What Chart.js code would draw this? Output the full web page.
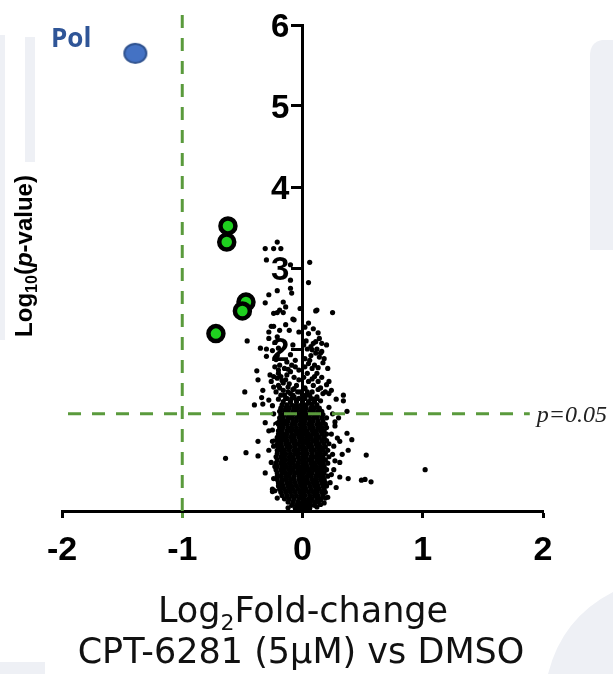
<!DOCTYPE html>
<html><head><meta charset="utf-8">
<script src="https://cdn.jsdelivr.net/npm/chart.js@4"></script>
<style>html,body{margin:0;padding:0;background:#fff}#wrap{width:613px;height:674px;position:relative}</style>
</head><body><div id="wrap"><canvas id="c" width="613" height="674"></canvas></div>
<script>
// ---------- data ----------
const xTickValues = [-2, -1, 0, 1, 2];
const yTickValues = [0, 1, 2, 3, 4, 5, 6];
const foldCutoff = -1;          // log2 fold-change threshold
const pCutoff = 1.2;            // -log10(p) line labelled p=0.05
const pLineFrom = -1.95, pLineTo = 1.89, foldLineTop = 6.19;

const polX = [-1.39];
const polY = [5.65];
const hitX = [-0.62, -0.63, -0.47, -0.50, -0.72];
const hitY = [3.52, 3.32, 2.58, 2.47, 2.19];

// dense core of proteins: one row per y value
const coreRowY = [0.03,0.07,0.11,0.15,0.19,0.23,0.27,0.31,0.35,0.39,0.43,0.47,0.51,0.55,0.59,0.63,0.67,0.71,0.75,0.79,0.83,0.87,0.91,0.95,0.99,1.03,1.07,1.11,1.15,1.19,1.23,1.27,1.31,1.35,1.39,1.43,1.47,1.51];
const coreRowX = [
 [-0.06,-0.03,0.0,0.03,0.06],
 [-0.09,-0.05,-0.02,0.01,0.04,0.07,0.10],
 [-0.12,-0.08,-0.04,0.0,0.03,0.06,0.1,0.13],
 [-0.15,-0.11,-0.07,-0.03,0.01,0.05,0.08,0.12,0.15],
 [-0.17,-0.13,-0.09,-0.05,-0.01,0.02,0.06,0.1,0.13,0.17],
 [-0.18,-0.14,-0.1,-0.06,-0.02,0.01,0.05,0.09,0.12,0.16,0.19],
 [-0.19,-0.15,-0.11,-0.08,-0.04,0.0,0.03,0.07,0.11,0.14,0.18],
 [-0.2,-0.16,-0.12,-0.09,-0.05,-0.01,0.02,0.06,0.1,0.13,0.17,0.2],
 [-0.2,-0.17,-0.13,-0.1,-0.06,-0.02,0.02,0.05,0.09,0.12,0.16,0.19],
 [-0.21,-0.17,-0.14,-0.1,-0.07,-0.03,0.01,0.04,0.08,0.11,0.15,0.18],
 [-0.21,-0.18,-0.14,-0.11,-0.07,-0.03,0.0,0.04,0.07,0.11,0.14,0.17,0.21],
 [-0.21,-0.17,-0.14,-0.1,-0.06,-0.03,0.01,0.05,0.08,0.12,0.15,0.18],
 [-0.22,-0.18,-0.15,-0.11,-0.08,-0.04,-0.01,0.03,0.06,0.1,0.13,0.16,0.2],
 [-0.21,-0.17,-0.14,-0.1,-0.06,-0.03,0.01,0.04,0.08,0.11,0.15,0.18],
 [-0.22,-0.18,-0.15,-0.11,-0.08,-0.04,0.0,0.03,0.07,0.1,0.14,0.17,0.21],
 [-0.21,-0.17,-0.14,-0.1,-0.07,-0.03,0.01,0.05,0.08,0.12,0.15,0.19],
 [-0.22,-0.18,-0.15,-0.11,-0.08,-0.04,0.0,0.03,0.07,0.1,0.14,0.17,0.22],
 [-0.21,-0.17,-0.14,-0.1,-0.06,-0.03,0.01,0.04,0.08,0.12,0.15,0.19],
 [-0.21,-0.18,-0.15,-0.11,-0.07,-0.04,0.0,0.03,0.07,0.1,0.14,0.17,0.21],
 [-0.2,-0.17,-0.13,-0.1,-0.06,-0.02,0.01,0.05,0.08,0.12,0.15,0.19],
 [-0.21,-0.18,-0.14,-0.11,-0.07,-0.04,0.0,0.04,0.07,0.11,0.14,0.18,0.22],
 [-0.2,-0.17,-0.13,-0.09,-0.06,-0.02,0.02,0.05,0.09,0.12,0.16,0.2],
 [-0.21,-0.17,-0.14,-0.1,-0.07,-0.03,0.0,0.04,0.07,0.11,0.14,0.18],
 [-0.2,-0.16,-0.13,-0.09,-0.05,-0.02,0.02,0.05,0.09,0.12,0.16,0.2],
 [-0.2,-0.17,-0.13,-0.1,-0.06,-0.03,0.01,0.04,0.08,0.11,0.15,0.18],
 [-0.19,-0.16,-0.12,-0.09,-0.05,-0.01,0.02,0.06,0.09,0.13,0.16,0.2],
 [-0.2,-0.16,-0.13,-0.09,-0.06,-0.02,0.01,0.05,0.08,0.12,0.15,0.19],
 [-0.19,-0.15,-0.12,-0.08,-0.05,-0.01,0.02,0.06,0.09,0.13,0.17],
 [-0.19,-0.16,-0.12,-0.09,-0.05,-0.02,0.02,0.05,0.09,0.12,0.16,0.2],
 [-0.18,-0.15,-0.11,-0.08,-0.04,-0.01,0.03,0.06,0.1,0.13,0.17],
 [-0.19,-0.15,-0.12,-0.08,-0.05,-0.01,0.02,0.06,0.09,0.13,0.16],
 [-0.18,-0.14,-0.11,-0.07,-0.04,0.0,0.03,0.07,0.1,0.14],
 [-0.17,-0.13,-0.09,-0.05,-0.01,0.03,0.08,0.12],
 [-0.16,-0.1,-0.05,0.0,0.05,0.1],
 [-0.14,-0.09,-0.03,0.02,0.07,0.12],
 [-0.15,-0.08,0.0,0.06],
 [-0.12,-0.04,0.04],
 [-0.07,0.02]
];

// scattered proteins outside the core: [log2FC, -log10 p]
const spreadPoints = [
 [-0.21,3.32],[-0.31,3.24],[-0.24,3.24],[-0.18,3.24],[-0.30,3.10],[-0.10,3.04],[0.06,3.07],[-0.10,2.85],[0.05,2.82],[-0.10,2.75],[-0.21,2.72],[-0.28,2.67],[-0.09,2.69],[-0.31,2.57],[-0.16,2.58],[-0.14,2.52],[-0.21,2.45],[-0.02,2.50],[0.12,2.48],[0.25,2.45],[-0.08,2.37],[-0.19,2.48],[-0.26,2.28],[-0.19,2.23],
 [-0.24,2.44],[-0.16,2.45],[-0.07,2.36],[0.11,2.47],[0.05,2.32],[-0.24,2.28],[-0.11,2.23],[-0.46,2.10],[-0.28,2.21],[-0.28,2.13],[-0.21,2.15],[-0.23,2.08],[0.05,2.19],[0.11,2.09],[0.16,2.07],[0.07,2.03],[0.12,2.00],[0.16,1.97],[0.15,1.95],[-0.35,2.01],[-0.30,2.00],[-0.30,1.91],[-0.08,2.05],[-0.10,1.93],[-0.13,1.84],[-0.06,1.86],[0.06,1.86],[0.10,1.80],[0.08,1.76],[0.12,1.70],[0.21,1.76],[-0.38,1.73],[-0.37,1.62],[-0.27,1.68],[-0.21,1.64],[-0.17,1.61],[-0.24,1.53],[-0.48,1.47],[-0.33,1.49],[-0.34,1.40],[0.20,1.56],[0.19,1.47],[0.24,1.49],[0.28,1.38],[0.34,1.36],[-0.16,1.49],[-0.10,1.45],[-0.13,1.39],[-0.05,1.37],[0.03,1.43],[0.12,1.41],[0.06,1.33],
 [-0.22,1.87],[-0.19,1.80],[-0.15,1.76],[-0.23,1.78],[-0.10,1.72],[-0.13,1.68],[-0.20,1.70],[-0.07,1.65],[-0.16,1.58],[-0.11,1.57],[-0.05,1.55],[-0.20,1.55],[-0.08,1.50],[0.02,1.52],[0.05,1.60],[0.09,1.55],[0.13,1.60],[0.10,1.66],[0.16,1.65],[0.04,1.70],[0.07,1.92],[0.11,1.95],[0.04,2.00],[0.18,1.88],[0.20,2.05],[0.14,2.13],[0.17,1.83],[0.13,1.50],[0.17,1.45],[0.03,2.10],[-0.25,1.98],[-0.26,1.60],[0.22,1.60],[0.02,1.78],[-0.03,1.74],[-0.09,1.80],[0.09,2.25],[-0.14,2.30],
 [-0.19,1.52],[-0.12,1.53],[-0.02,1.47],[0.08,1.47],[0.15,1.52],[-0.22,1.47],[-0.18,1.43],[-0.07,1.41],[0.09,1.38],[0.15,1.36],[-0.20,1.38],[-0.14,1.62],[-0.03,1.62],[0.01,1.65],[0.08,1.63],[-0.18,1.66],[-0.24,1.66],[-0.12,1.75],[-0.06,1.78],[0.05,1.82],[0.13,1.77],[0.02,1.88],[0.14,1.90],[-0.21,1.92],[0.08,1.99],[-0.20,2.01],[0.01,2.05],[0.09,2.07],[-0.03,2.21],[0.02,2.27],[0.13,2.20],[-0.20,1.74],
 [-0.40,1.31],[-0.33,1.32],[-0.28,1.37],[0.22,1.45],[0.37,1.23],[0.34,1.43],[-0.31,1.09],[-0.28,0.99],[-0.37,0.86],[-0.25,0.86],[0.31,0.86],[0.37,0.96],[0.41,0.88],[0.38,0.75],[-0.47,0.72],[-0.37,0.68],[-0.64,0.65],[0.53,0.69],[0.31,0.60],[-0.31,0.47],[0.26,0.51],[0.38,0.40],[0.49,0.38],[0.52,0.39],[0.57,0.36],[0.28,0.29],[-0.25,0.24],[-0.19,0.31],[-0.21,0.16],[0.19,0.16],[0.21,0.17],[0.15,0.14],[1.02,0.51],[0.27,1.10],[-0.25,0.27],
 [0.25,1.20],[0.27,1.05],[0.24,0.95],[0.26,0.80],[0.25,0.70],[0.24,0.45],[0.27,0.62],[0.23,0.35],[0.29,0.90],[0.22,1.28],[0.30,1.15],[0.33,0.70],[0.31,0.42],[-0.24,1.20],[-0.25,1.00],[-0.24,0.80],[-0.26,0.60],[-0.24,0.40],[-0.23,0.55],[-0.28,0.75],[-0.25,1.30],[-0.23,0.25],[0.12,0.05],[0.15,0.08],[-0.12,0.04],[0.18,0.10]
];

// ---------- build ----------
const GREEN = '#5a9a3c';
const bgPoints = [];
coreRowY.forEach((y, i) => coreRowX[i].forEach(x => bgPoints.push({x, y})));
spreadPoints.forEach(p => bgPoints.push({x: p[0], y: p[1]}));
const hits = hitX.map((x, i) => ({x, y: hitY[i]}));
const pol = polX.map((x, i) => ({x, y: polY[i]}));

const polImg = document.createElement('canvas');
polImg.width = 26; polImg.height = 23;
(function(){ const g = polImg.getContext('2d');
  g.beginPath(); g.ellipse(13, 11.5, 11, 9.5, 0, 0, Math.PI*2);
  g.fillStyle = '#4472c4'; g.fill(); g.lineWidth = 2; g.strokeStyle = '#2f528f'; g.stroke(); })();

function drawRuns(c, runs, cx, baseline){
  let total = 0;
  runs.forEach(r => { c.font = r.font; r.w = c.measureText(r.t).width; total += r.w; });
  let x = cx - total/2;
  c.textAlign = 'left'; c.textBaseline = 'alphabetic';
  runs.forEach(r => { c.font = r.font; c.fillText(r.t, x, baseline + (r.dy||0)); x += r.w; });
}

const bgShapes = {id:'bgShapes', beforeDraw(chart){
  const c = chart.ctx; c.save(); c.fillStyle = '#eef0f5';
  c.fillRect(0, 35, 5, 305);
  c.fillRect(25, 37, 10, 125);
  c.beginPath(); c.moveTo(613, 40); c.lineTo(602, 40); c.quadraticCurveTo(590, 42, 590, 56); c.lineTo(590, 250); c.lineTo(613, 250); c.closePath(); c.fill();
  c.beginPath(); c.moveTo(613, 592); c.quadraticCurveTo(562, 618, 548, 674); c.lineTo(613, 674); c.closePath(); c.fill();
  c.fillRect(0, 662, 45, 12);
  c.restore();
}};

const labels = {id:'labels', afterDraw(chart){
  const c = chart.ctx, xs = chart.scales.x, ys = chart.scales.y;
  c.save();
  // Pol label
  c.fillStyle = '#2f5597'; c.font = 'bold 26px "Open Sans"'; c.textAlign = 'right'; c.textBaseline = 'alphabetic';
  c.fillText('Pol', xs.getPixelForValue(polX[0]) - 44, ys.getPixelForValue(polY[0]) - 6);
  // p=0.05
  c.fillStyle = '#222'; c.font = 'italic 24px "Liberation Serif"'; c.textAlign = 'left';
  c.fillText('p=0.05', xs.getPixelForValue(pLineTo) + 7, ys.getPixelForValue(pCutoff) + 8);
  // y title
  c.fillStyle = '#000';
  c.save(); c.translate(32, 256); c.rotate(-Math.PI/2);
  drawRuns(c, [
    {t:'Log', font:'bold 24px "Liberation Sans"'},
    {t:'10', font:'bold 16px "Liberation Sans"', dy:5},
    {t:'(', font:'bold 24px "Liberation Sans"'},
    {t:'p', font:'italic bold 24px "Liberation Sans"'},
    {t:'-value)', font:'bold 24px "Liberation Sans"'}
  ], 0, 0);
  c.restore();
  // x title
  c.fillStyle = '#111';
  drawRuns(c, [
    {t:'Log', font:'35px "DejaVu Sans"'},
    {t:'2', font:'22px "DejaVu Sans"', dy:8},
    {t:'Fold-change', font:'35px "DejaVu Sans"'}
  ], 303, 622);
  drawRuns(c, [{t:'CPT-6281 (5µM) vs DMSO', font:'35px "DejaVu Sans"'}], 301, 663);
  c.restore();
}};

new Chart(document.getElementById('c'), {
  type: 'scatter',
  data: { datasets: [
    {label:'fold cutoff', data:[{x:foldCutoff,y:0},{x:foldCutoff,y:foldLineTop}], showLine:true, borderColor:GREEN, borderWidth:3, borderDash:[13,10], pointRadius:0, clip:false, order:0},
    {label:'p cutoff', data:[{x:pLineFrom,y:pCutoff},{x:pLineTo,y:pCutoff}], showLine:true, borderColor:GREEN, borderWidth:3, borderDash:[13,11], pointRadius:0, clip:false, order:0},
    {label:'Pol', data:pol, pointStyle:polImg, pointRadius:11, order:1},
    {label:'hits', data:hits, backgroundColor:'#1fd01f', borderColor:'#000', borderWidth:4.5, pointRadius:7.5, order:2},
    {label:'proteins', data:bgPoints, backgroundColor:'#000', borderWidth:0, pointRadius:2.6, order:3}
  ]},
  options: {
    responsive:false, animation:false, devicePixelRatio:1,
    layout:{padding:{left:62, right:70, top:25, bottom:0}},
    plugins:{legend:{display:false}, tooltip:{enabled:false}},
    scales:{
      x:{type:'linear', position:'bottom', min:-2, max:2,
        afterBuildTicks:s => { s.ticks = xTickValues.map(v => ({value:v})); },
        afterFit:s => { s.height = 163; },
        border:{display:true, color:'#000', width:3},
        grid:{drawOnChartArea:false, drawTicks:true, tickLength:7, tickWidth:3, tickColor:ctx => (ctx.tick && ctx.tick.value === foldCutoff) ? GREEN : '#000'},
        ticks:{color:'#000', padding:12, font:{family:'"Liberation Sans"', weight:'bold', size:34}, callback:v => String(v)}
      },
      y:{type:'linear', position:{x:0}, min:0, max:6,
        afterBuildTicks:s => { s.ticks = yTickValues.map(v => ({value:v})); },
        border:{display:true, color:'#000', width:3},
        grid:{drawOnChartArea:false, drawTicks:true, tickLength:10, tickWidth:3, tickColor:'#000'},
        ticks:{color:'#000', padding:0, labelOffset:3, font:{family:'"Liberation Sans"', weight:'bold', size:33}, callback:v => v === 0 ? '' : String(v) + '\u2009\u2009'}
      }
    }
  },
  plugins:[bgShapes, labels]
});
</script></body></html>
